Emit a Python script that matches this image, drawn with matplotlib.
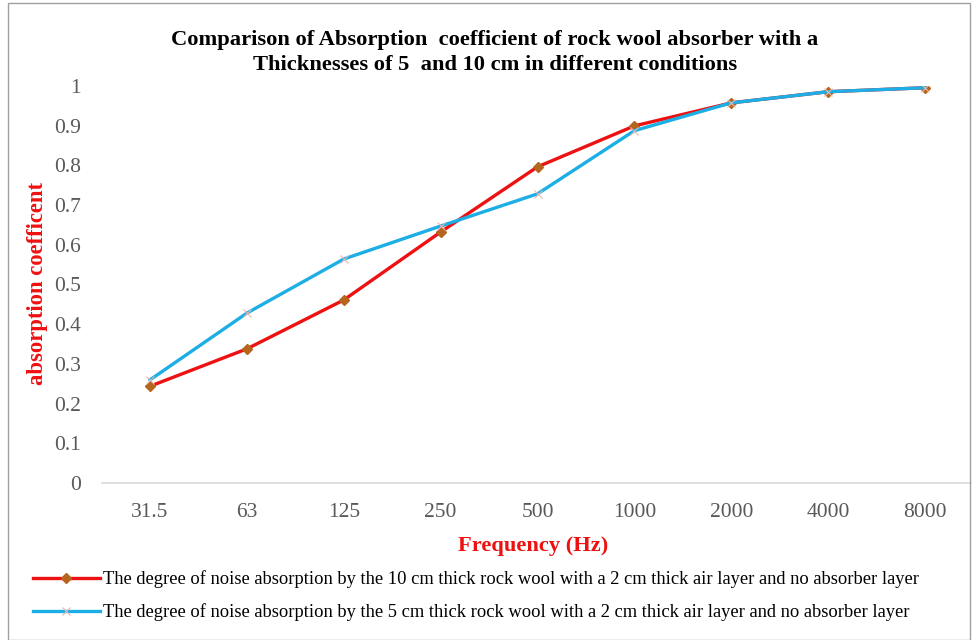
import numpy as np
import matplotlib.pyplot as plt
from matplotlib.patches import Rectangle

freqs = ['31.5', '63', '125', '250', '500', '1000', '2000', '4000', '8000']
abs_10cm = [0.244, 0.338, 0.461, 0.632, 0.796, 0.899, 0.957, 0.985, 0.995]
abs_5cm = [0.26, 0.428, 0.564, 0.647, 0.728, 0.887, 0.957, 0.985, 0.995]

label_10 = 'The degree of noise absorption by the 10 cm thick rock wool with a 2 cm thick air layer and no absorber layer'
label_5 = 'The degree of noise absorption by the 5 cm thick rock wool with a 2 cm thick air layer and no absorber layer'

plt.rcParams['font.family'] = ['Liberation Serif', 'DejaVu Serif']

fig = plt.figure(figsize=(9.72, 6.4), dpi=100)
ax = fig.add_axes([0.1045, 0.245, 0.897, 0.621])

x = np.arange(len(freqs))
ax.plot(x, abs_10cm, '-', color='#EE1111', lw=2.4, marker='D', ms=5.5,
        mfc='#B5651D', mec='#B5651D', label=label_10, zorder=3)
ax.plot(x, abs_5cm, '-', color='#1CAEE4', lw=2.4, marker='x', ms=6,
        mec='#E8B8B0', mew=0.8, label=label_5, zorder=4)

ax.set_xlim(-0.5, len(freqs) - 0.5)
ax.set_ylim(0, 1)
ax.set_xticks(x)
ax.set_xticklabels(freqs)
ax.set_yticks(np.arange(0, 1.01, 0.1))
ax.set_yticklabels(['0', '0.1', '0.2', '0.3', '0.4', '0.5', '0.6', '0.7', '0.8', '0.9', '1'])
ax.tick_params(axis='both', length=0, labelsize=15.5, colors='#595959')
ax.tick_params(axis='x', pad=14)
ax.tick_params(axis='y', pad=15)
for s in ['top', 'right', 'left']:
    ax.spines[s].set_visible(False)
ax.spines['bottom'].set_color('#D9D9D9')
ax.spines['bottom'].set_linewidth(1.2)

fig.text(0.509, 0.918,
         'Comparison of Absorption  coefficient of rock wool absorber with a\nThicknesses of 5  and 10 cm in different conditions',
         ha='center', va='center', fontsize=16.2, fontweight='bold', linespacing=1.35)
fig.text(0.039, 0.557, 'absorption coefficent', rotation=90, ha='center', va='center',
         fontsize=16.3, fontweight='bold', color='#EE1111')
fig.text(0.548, 0.147, 'Frequency (Hz)', ha='center', va='center',
         fontsize=16.2, fontweight='bold', color='#EE1111')

fig.legend(loc='center left', bbox_to_anchor=(0.017, 0.069), frameon=False,
           fontsize=13.3, handlelength=3.6, handletextpad=0.2, labelspacing=0.8)

fig.add_artist(Rectangle((0.008, 0.0), 0.99, 0.995, transform=fig.transFigure,
                         fill=False, edgecolor='#A0A0A0', lw=1.0))

fig.savefig('out.png', dpi=100)
